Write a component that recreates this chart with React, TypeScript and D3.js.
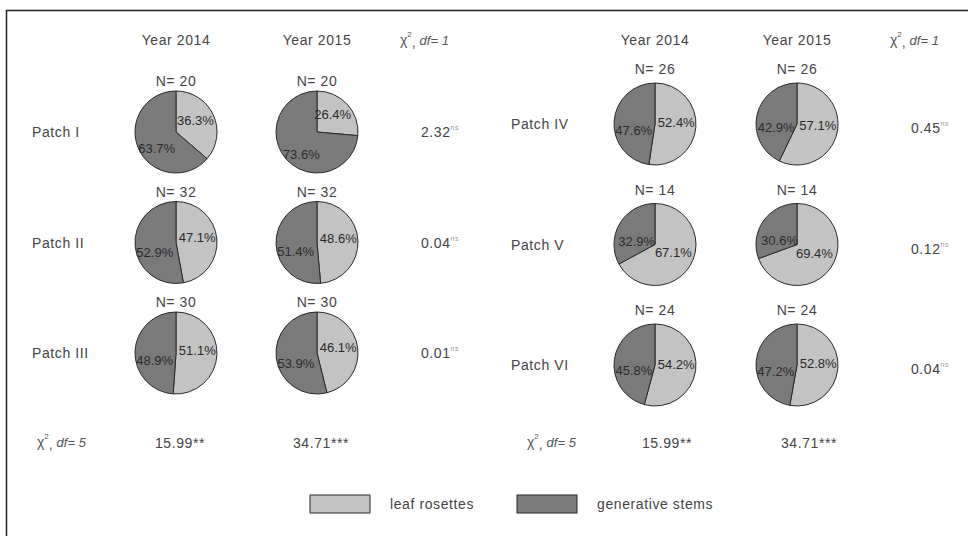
import { useEffect, useRef } from "react"
import * as d3 from "d3"

// data
const patches = ["Patch I", "Patch II", "Patch III", "Patch IV", "Patch V", "Patch VI"]
const years = ["Year 2014", "Year 2015"]
const n2014 = [20, 32, 30, 26, 14, 24]
const n2015 = [20, 32, 30, 26, 14, 24]
const leaf2014 = [36.3, 47.1, 51.1, 52.4, 67.1, 54.2]
const stems2014 = [63.7, 52.9, 48.9, 47.6, 32.9, 45.8]
const leaf2015 = [26.4, 48.6, 46.1, 57.1, 69.4, 52.8]
const stems2015 = [73.6, 51.4, 53.9, 42.9, 30.6, 47.2]
const chiPatch = ["2.32", "0.04", "0.01", "0.45", "0.12", "0.04"]
const chiYear = ["15.99**", "34.71***"]
const legendLabels = ["leaf rosettes", "generative stems"]

const W = 968
const H = 536
const LIGHT = "#c3c3c3"
const DARK = "#7a7a7a"
const FONT = "'Liberation Sans', Arial, sans-serif"
const TXT = "#444"
const LS = 0.6

// panel layouts (left: patches I-III, right: IV-VI)
const panels = [
  { label: 32, cols: [176, 317], chi: 440, rowY: d3.scaleLinear().domain([0, 2]).range([132, 353]), nDy: -51, chiDy: 0, bottomX: 37 },
  { label: 511, cols: [655, 797], chi: 930, rowY: d3.scaleLinear().domain([0, 2]).range([124, 365]), nDy: -55, chiDy: 4, bottomX: 527 },
]
const R = 41

const App = () => {
  const svgRef = useRef<SVGSVGElement | null>(null)

  useEffect(() => {
    if (!svgRef.current) return
    const svg = d3.select(svgRef.current)
    svg.selectAll("*").remove()

    svg.append("rect").attr("width", W).attr("height", H).attr("fill", "#fff")
    // frame (only left and top visible)
    svg.append("rect").attr("x", 6.5).attr("y", 10.5).attr("width", W + 20).attr("height", H + 20)
      .attr("fill", "none").attr("stroke", "#222").attr("stroke-width", 1.5)

    const pie = d3.pie<number>().sort(null).value((d) => d)
    const arc = d3.arc<d3.PieArcDatum<number>>().innerRadius(0).outerRadius(R)
    const labelArc = d3.arc<d3.PieArcDatum<number>>().innerRadius(R * 0.52).outerRadius(R * 0.52)

    const chiHeader = (g: d3.Selection<SVGGElement, unknown, null, undefined>, x: number, y: number, df: string) => {
      const t = g.append("text").attr("x", x).attr("y", y).attr("font-family", FONT).attr("fill", "#555").attr("font-size", 14)
      t.append("tspan").text("χ")
      t.append("tspan").attr("dy", -8).attr("font-size", 8).text("2")
      t.append("tspan").attr("dy", 10).text(", ")
      t.append("tspan").attr("dy", -2).attr("font-style", "italic").attr("font-size", 13).text(`df= ${df}`)
    }

    panels.forEach((p, pi) => {
      const g = svg.append("g")
      // headers
      years.forEach((yr, ci) => {
        g.append("text").attr("x", p.cols[ci]).attr("y", 45).attr("text-anchor", "middle")
          .attr("font-family", FONT).attr("font-size", 14).attr("letter-spacing", LS).attr("fill", TXT).text(yr)
      })
      chiHeader(g, p.chi - 40, 45, "1")

      for (let r = 0; r < 3; r++) {
        const i = pi * 3 + r
        const cy = p.rowY(r)
        g.append("text").attr("x", p.label).attr("y", cy).attr("dominant-baseline", "central")
          .attr("font-family", FONT).attr("font-size", 14).attr("letter-spacing", LS).attr("fill", TXT).text(patches[i])

        const sets = [
          { n: n2014[i], vals: [leaf2014[i], stems2014[i]] },
          { n: n2015[i], vals: [leaf2015[i], stems2015[i]] },
        ]
        sets.forEach((s, ci) => {
          const cx = p.cols[ci]
          g.append("text").attr("x", cx).attr("y", cy + p.nDy).attr("dominant-baseline", "central")
            .attr("text-anchor", "middle").attr("font-family", FONT).attr("font-size", 14)
            .attr("letter-spacing", LS).attr("fill", TXT)
            .text(`N= ${s.n}`)
          const pg = g.append("g").attr("transform", `translate(${cx},${cy})`)
          const arcs = pie(s.vals)
          pg.selectAll("path").data(arcs).join("path")
            .attr("d", arc)
            .attr("fill", (_d, k) => (k === 0 ? LIGHT : DARK))
            .attr("stroke", "#2a2a2a").attr("stroke-width", 1)
          pg.selectAll("text").data(arcs).join("text")
            .attr("x", (d) => labelArc.centroid(d)[0])
            .attr("y", (d, k) => labelArc.centroid(d)[1] + (k === 0 ? -3 : 8))
            .attr("text-anchor", "middle").attr("dominant-baseline", "central")
            .attr("font-family", FONT).attr("font-size", 13).attr("fill", "#2a2a2a")
            .text((d) => `${d.data.toFixed(1)}%`)
        })

        const ct = g.append("text").attr("x", p.chi).attr("y", cy + p.chiDy).attr("dominant-baseline", "central")
          .attr("text-anchor", "middle").attr("font-family", FONT).attr("font-size", 14)
          .attr("letter-spacing", LS).attr("fill", TXT)
        ct.append("tspan").text(chiPatch[i])
        ct.append("tspan").attr("dy", -5).attr("font-size", 7).attr("fill", "#999").text("ns")
      }

      // bottom chi-square row
      chiHeader(g, p.bottomX, 447, "5")
      chiYear.forEach((v, ci) => {
        g.append("text").attr("x", p.cols[ci] + (pi === 0 ? 4 : 12)).attr("y", 443).attr("dominant-baseline", "central")
          .attr("text-anchor", "middle").attr("font-family", FONT).attr("font-size", 14)
          .attr("letter-spacing", LS).attr("fill", TXT).text(v)
      })
    })

    // legend
    const legendX = d3.scalePoint<string>().domain(legendLabels).range([310, 517])
    const lg = svg.append("g")
    legendLabels.forEach((lab, k) => {
      const x = legendX(lab) as number
      lg.append("rect").attr("x", x).attr("y", 495).attr("width", 60).attr("height", 18)
        .attr("fill", k === 0 ? LIGHT : DARK).attr("stroke", "#2a2a2a").attr("stroke-width", 1)
      lg.append("text").attr("x", x + 80).attr("y", 504).attr("dominant-baseline", "central")
        .attr("font-family", FONT).attr("font-size", 14).attr("letter-spacing", LS).attr("fill", TXT).text(lab)
    })
  }, [])

  return (
    <div style={{ position: "absolute", left: 0, top: 0, width: W, height: H }}>
      <svg ref={svgRef} width={W} height={H} style={{ display: "block" }} />
    </div>
  )
}

export default App
